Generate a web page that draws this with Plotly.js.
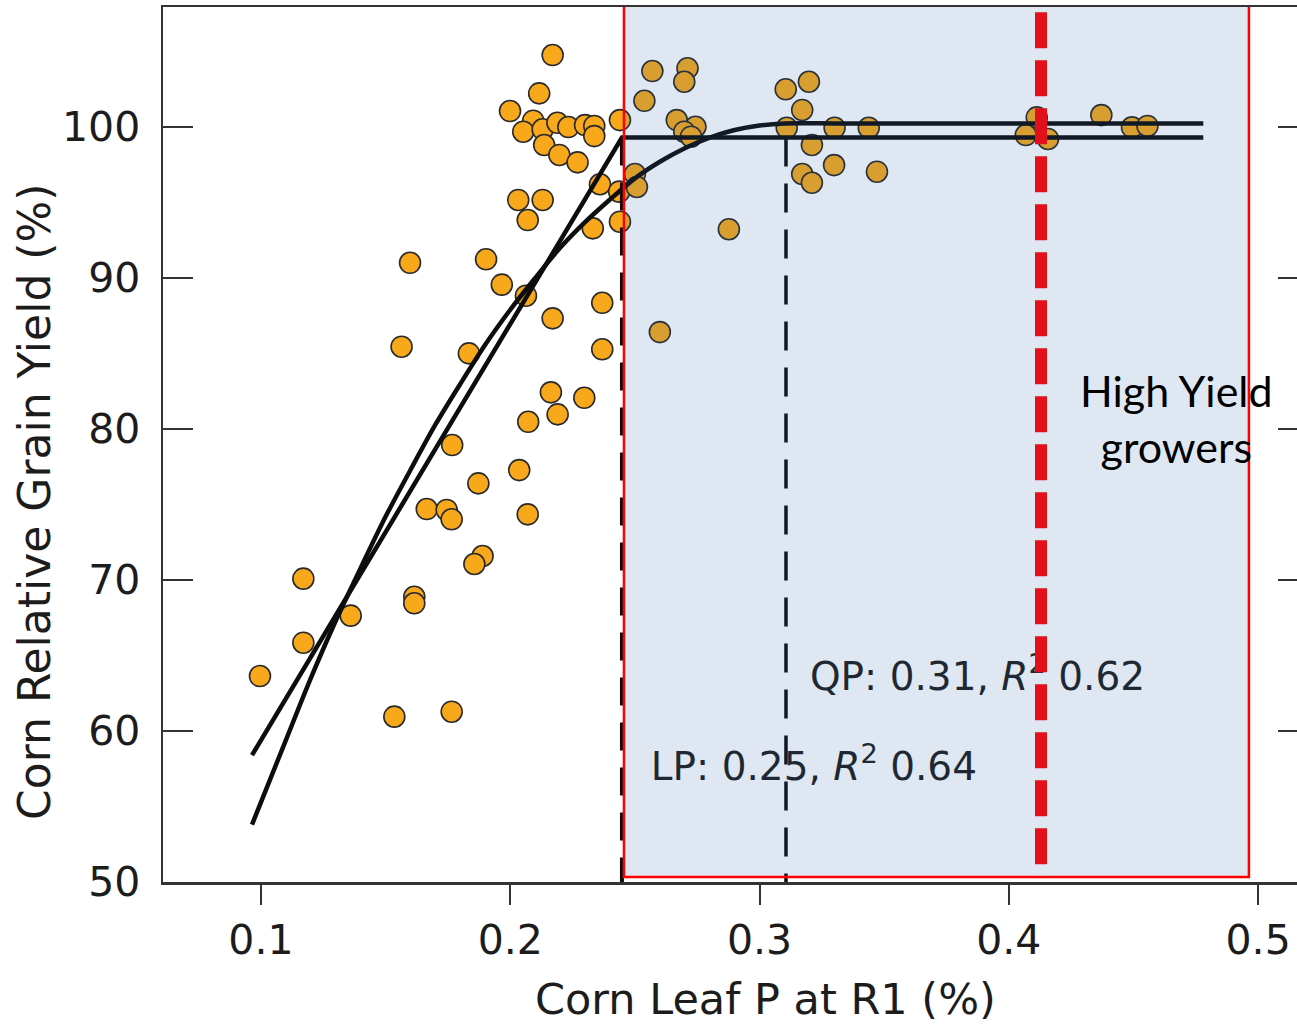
<!DOCTYPE html>
<html>
<head>
<meta charset="utf-8">
<script src="https://cdn.plot.ly/plotly-3.0.1.min.js"></script>
<style>
html, body { margin: 0; padding: 0; overflow: hidden; background: #ffffff; }
#chart { width: 1330px; height: 1025px; }
</style>
</head>
<body>
<div id="chart"></div>
<script>
// Observed data: corn leaf P at R1 (%) vs relative grain yield (%)
const leafP = [
  0.2170, 0.2116, 0.1999, 0.2092, 0.2052, 0.2130, 0.2189, 0.2233, 0.2300, 0.2337,
  0.2337, 0.2440, 0.2136, 0.2197, 0.2270, 0.2360, 0.2437, 0.2500, 0.2508, 0.2032,
  0.2130, 0.2070, 0.2331, 0.2440, 0.2570, 0.2711, 0.2698, 0.2538, 0.2668, 0.2743,
  0.2698, 0.2725, 0.2877, 0.2600, 0.3105, 0.3198, 0.3171, 0.3109, 0.3301, 0.3438,
  0.3210, 0.3299, 0.3171, 0.3210, 0.3471, 0.4112, 0.4068, 0.4157, 0.4371, 0.4494,
  0.4556, 0.1598, 0.1903, 0.1966, 0.2063, 0.2369, 0.2170, 0.1564, 0.1834, 0.2369,
  0.2163, 0.2297, 0.2190, 0.2072, 0.1767, 0.2036, 0.1872, 0.1665, 0.1745, 0.1765,
  0.2070, 0.1889, 0.1856, 0.1170, 0.1615, 0.1615, 0.1360, 0.1170, 0.0996, 0.1535,
  0.1765
];
const relYield = [
  104.77, 102.23, 101.06, 100.42, 99.69, 99.85, 100.28, 100.00, 100.13, 100.07,
  99.40, 100.46, 98.81, 98.15, 97.66, 96.21, 95.72, 96.89, 96.03, 95.17,
  95.17, 93.84, 93.29, 93.73, 103.71, 103.89, 103.00, 101.74, 100.46, 100.02,
  99.69, 99.36, 93.23, 86.42, 102.50, 103.00, 101.13, 99.95, 99.95, 99.95,
  98.81, 97.48, 96.89, 96.31, 97.04, 100.64, 99.47, 99.21, 100.79, 99.98,
  100.07, 91.01, 91.24, 89.56, 88.83, 88.36, 87.33, 85.45, 85.01, 85.28,
  82.43, 82.07, 80.97, 80.48, 78.94, 77.28, 76.40, 74.70, 74.64, 74.02,
  74.35, 71.59, 71.06, 70.09, 68.89, 68.46, 67.64, 65.85, 63.64, 60.95,
  61.28
];

// Linear-plateau fit
const lpX = [0.0964, 0.2448, 0.478];
const lpY = [58.4, 99.3, 99.3];

// Quadratic-plateau fit
const qpX = [0.0964, 0.11, 0.12, 0.13, 0.14, 0.15, 0.16, 0.17, 0.18, 0.19, 0.20, 0.21, 0.22, 0.23, 0.24, 0.25, 0.26, 0.27, 0.28, 0.29, 0.30, 0.31, 0.33, 0.36, 0.40, 0.44, 0.478];
const qpY = [53.8, 59.4, 63.5, 67.3, 70.8, 74.2, 77.3, 80.3, 83.0, 85.6, 87.9, 90.0, 92.0, 93.7, 95.2, 96.6, 97.7, 98.6, 99.3, 99.8, 100.1, 100.24, 100.24, 100.24, 100.24, 100.24, 100.24];

// Critical values and highlighted region
const lpCritical = 0.2448;
const qpCritical = 0.3106;
const plateauY = 99.3;
const highYieldP = 0.4129;
const shadeX = [0.2456, 0.4963];
const shadeY = [50.33, 108.1];

const labels = {
  qp: 'QP: 0.31, <i>R</i><sup>2</sup> 0.62',
  lp: 'LP: 0.25, <i>R</i><sup>2</sup> 0.64',
  group: 'High Yield<br>growers',
  xTitle: 'Corn Leaf P at R1 (%)',
  yTitle: 'Corn Relative Grain Yield (%)'
};
const xTicks = [0.1, 0.2, 0.3, 0.4, 0.5];
const xTickText = ['0.1', '0.2', '0.3', '0.4', '0.5'];
const yTicks = [50, 60, 70, 80, 90, 100];

const font = 'DejaVu Sans, Liberation Sans, Arial, sans-serif';
const ink = '#1c1c1c';

const traces = [
  {
    type: 'scatter', mode: 'markers', x: leafP, y: relYield,
    marker: { size: 21, color: '#F7A81B', line: { color: '#2a2a2a', width: 1.6 } },
    hoverinfo: 'x+y', showlegend: false
  },
  {
    type: 'scatter', mode: 'lines', x: lpX, y: lpY,
    line: { color: '#0d0d0d', width: 4.5 }, showlegend: false
  },
  {
    type: 'scatter', mode: 'lines', x: qpX, y: qpY,
    line: { color: '#0d0d0d', width: 4.5, shape: 'spline', smoothing: 0.8 }, showlegend: false
  },
  {
    type: 'scatter', mode: 'text', x: [0.3202, 0.2564], y: [63.38, 57.42],
    text: [labels.qp, labels.lp], textposition: 'middle right',
    textfont: { family: font, size: 39, color: '#1e1e1e' },
    hoverinfo: 'skip', showlegend: false
  }
];

const layout = {
  width: 1330, height: 1025,
  margin: { l: 163, r: 22, t: 7, b: 143 },
  paper_bgcolor: '#ffffff', plot_bgcolor: '#ffffff',
  showlegend: false,
  xaxis: {
    range: [0.0607, 0.5200],
    tickvals: xTicks, ticktext: xTickText,
    ticks: 'outside', ticklen: 20, tickwidth: 2, tickcolor: '#333',
    showline: true, linecolor: '#333', linewidth: 2.5, mirror: true,
    showgrid: false, zeroline: false,
    tickfont: { family: font, size: 41, color: ink }
  },
  yaxis: {
    range: [50, 107.95],
    tickvals: yTicks,
    ticks: 'inside', ticklen: 30, tickwidth: 2, tickcolor: '#333',
    showline: true, linecolor: '#333', linewidth: 2.5, mirror: 'ticks',
    showgrid: false, zeroline: false,
    ticklabelstandoff: 12,
    tickfont: { family: font, size: 41, color: ink }
  },
  shapes: [
    { type: 'line', layer: 'above', xref: 'x', yref: 'y', x0: lpCritical, x1: lpCritical, y0: plateauY, y1: 50,
      line: { color: '#0d0d0d', width: 4, dash: '28px,17px' } },
    { type: 'line', layer: 'above', xref: 'x', yref: 'y', x0: qpCritical, x1: qpCritical, y0: plateauY, y1: 50,
      line: { color: '#0d0d0d', width: 3.5, dash: '29px,17px' } },
    { type: 'rect', layer: 'above', xref: 'x', yref: 'y', x0: shadeX[0], x1: shadeX[1], y0: shadeY[0], y1: shadeY[1],
      fillcolor: 'rgba(42,102,168,0.15)', line: { color: '#FF0000', width: 2.5 } },
    { type: 'line', layer: 'above', xref: 'x', yref: 'y', x0: highYieldP, x1: highYieldP, y0: 107.6, y1: 50.33,
      line: { color: '#E3101B', width: 12, dash: '36px,12px' } }
  ],
  annotations: [
    { xref: 'x', yref: 'y', x: 0.4674, y: 80.73, text: labels.group, showarrow: false,
      xanchor: 'center', yanchor: 'middle', align: 'center',
      font: { family: 'Lato, Open Sans, sans-serif', size: 43, color: '#000' } },
    { xref: 'x', yref: 'paper', x: 0.3022, y: -0.134, text: labels.xTitle, showarrow: false,
      xanchor: 'center', yanchor: 'middle',
      font: { family: font, size: 43, color: ink } },
    { xref: 'paper', yref: 'y', x: -0.1118, y: 75.17, text: labels.yTitle, showarrow: false,
      textangle: -90, xanchor: 'center', yanchor: 'middle',
      font: { family: font, size: 44, color: ink } }
  ]
};

Plotly.newPlot('chart', traces, layout, { displayModeBar: false, staticPlot: true });
</script>
</body>
</html>
